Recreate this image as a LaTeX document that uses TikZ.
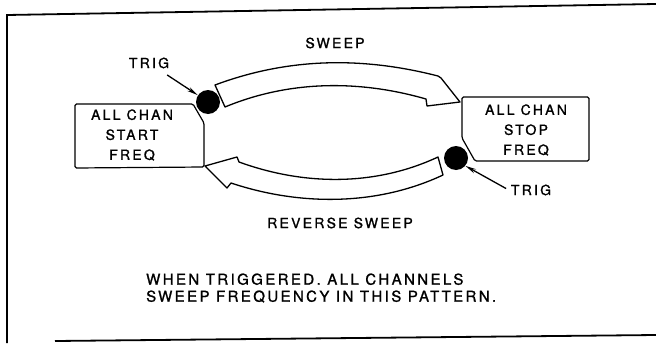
\documentclass[tikz,border=0pt]{standalone}
\usepackage{fontspec}
\setmainfont{TeX Gyre Heros}[LetterSpace=16,FakeBold=1.2]
\usetikzlibrary{arrows.meta}

\begin{document}
\begin{tikzpicture}[x=1pt,y=-1pt,
    lbl/.style={font=\fontsize{14}{20}\selectfont,inner sep=2pt},
    frameline/.style={line width=1.8pt},
    boxline/.style={line width=1.2pt,rounded corners=1.5pt},
    band/.style={line width=1.3pt,fill=white,line join=round},
    ball/.style={circle,fill=black,inner sep=0pt,minimum size=24pt},
    trigarrow/.style={line width=1.3pt,-{Stealth[length=11pt,width=4.5pt]}}]
  \useasboundingbox (0,0) rectangle (656,343);
  % frame
  \draw[frameline] (7,343) -- (7,15) -- (656,4);
  \draw[frameline] (55,341) -- (656,335);
  % sweep and reverse sweep
  \draw[band] (215,85) .. controls (290,57) and (364,57) .. (438,76)
    -- (441,78) -- (460,102) -- (427,106) -- (426,99)
    .. controls (360,80) and (290,80) .. (225,107) -- cycle;
  \draw[band] (205,166) -- (237,157) -- (239,162)
    .. controls (305,186) and (376,186) .. (438,157) -- (443,175)
    .. controls (377,206) and (300,206) .. (231,183) -- (227,188) -- cycle;
  % boxes
  \draw[boxline] (75,104) -- (193,104) -- (204,123) -- (204,167) -- (75,168) -- cycle;
  \draw[boxline] (462,97) -- (589,97) -- (589,161) -- (475,161) -- (462,138) -- cycle;
  \node[lbl,align=center] (startlab) at (132,135) {ALL CHAN\\START\\FREQ};
  \node[lbl,align=center] (stoplab) at (526,130) {ALL CHAN\\STOP\\FREQ};
  % trigger points
  \node[ball] (ballA) at (208,102) {};
  \node[ball] (ballB) at (456,158) {};
  \node[lbl] (trigAlab) at (149,63) {TRIG};
  \node[lbl] (trigBlab) at (531,190) {TRIG};
  \draw[trigarrow,shorten <=8pt] (trigAlab) -- (ballA.146);
  \draw[trigarrow,shorten <=3pt] (trigBlab.west) -- (ballB.-40);
  % labels
  \node[lbl] (sweep) at (335,43) {SWEEP};
  \node[lbl] (revsweep) at (340,223) {REVERSE SWEEP};
  \node[lbl,font=\fontsize{15}{17}\selectfont,anchor=west,align=left] (note) at (144,288)
    {WHEN TRIGGERED. ALL CHANNELS\\SWEEP FREQUENCY IN THIS PATTERN.};
\end{tikzpicture}
\end{document}
